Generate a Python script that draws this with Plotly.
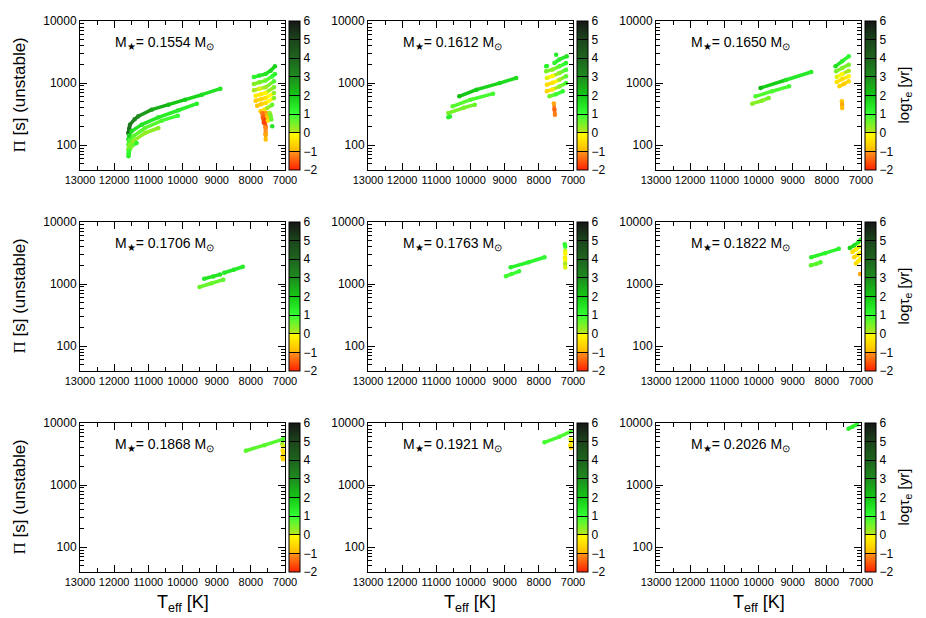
import plotly.graph_objs as go
from plotly.colors import sample_colorscale

####################################################################################################
##                                             DATA                                               ##
####################################################################################################

# Stellar masses of each panel (Msun)
masses = ['0.1554', '0.1612', '0.1650', '0.1706', '0.1763', '0.1822', '0.1868', '0.1921', '0.2026']

# Axis ticks
teff_ticks = [13000, 12000, 11000, 10000, 9000, 8000, 7000]
period_ticks = [100, 1000, 10000]
tau_ticks = [-2, -1, 0, 1, 2, 3, 4, 5, 6]

# Unstable modes: each track is (Teff [K], Pi [s], log tau_e [yr])
tracks_1554 = [
    ([11588, 11560, 11538, 11400, 11294, 10903, 10412, 9921, 9432, 8891],
     [157, 185, 214, 262, 292, 373, 449, 541, 650, 813],
     [3.8, 3.7, 3.5, 3.2, 3.0, 2.6, 2.2, 1.9, 1.6, 1.5]),
    ([11585, 11560, 11491, 11197, 10706, 10118, 9580],
     [123, 145, 168, 214, 281, 365, 466],
     [1.8, 1.7, 1.6, 1.5, 1.4, 1.3, 1.3]),
    ([11585, 11560, 11441, 11097, 10609, 10138],
     [102, 120, 139, 189, 248, 299],
     [0.9, 0.8, 0.7, 0.7, 0.8, 1.0]),
    ([11585, 11560, 11441, 11097, 10706],
     [85, 100, 116, 157, 189],
     [0.5, 0.4, 0.3, 0.3, 0.4]),
    ([11580, 11540, 11491, 11344],
     [75, 86, 96, 108],
     [0.8, 0.6, 0.5, 1.2]),
    ([11580, 11575, 11570],
     [66, 72, 80],
     [1.3, 1.2, 1.0]),
    ([7912, 7750, 7568, 7421, 7294],
     [1254, 1320, 1403, 1585, 1862],
     [1.2, 1.4, 1.5, 1.7, 1.8]),
    ([7912, 7750, 7568, 7374, 7294],
     [966, 1030, 1096, 1290, 1403],
     [0.4, 0.5, 0.6, 1.0, 1.2]),
    ([7912, 7750, 7568, 7324],
     [765, 810, 855, 1072],
     [0.1, 0.0, 0.2, 0.8]),
    ([7862, 7700, 7568, 7324],
     [627, 660, 693, 855],
     [-0.3, -0.3, -0.1, 0.5]),
    ([7862, 7700, 7568, 7324],
     [521, 548, 575, 693],
     [-0.7, -0.6, -0.4, 0.3]),
    ([7814, 7700, 7568, 7324],
     [433, 455, 479, 575],
     [-0.8, -0.7, -0.5, 0.4]),
    ([7715, 7600, 7520, 7374],
     [352, 375, 398, 449],
     [-0.6, -0.4, 0.2, 0.6]),
    ([7670, 7650, 7620],
     [330, 280, 230],
     [-1.2, -1.5, -1.7]),
    ([7600, 7580, 7570, 7568],
     [320, 260, 200, 150],
     [-1.4, -1.7, -1.5, -1.2]),
    ([7568, 7566, 7565],
     [190, 150, 123],
     [-1.1, -1.0, -0.9]),
    ([7540, 7520, 7500],
     [330, 290, 250],
     [-1.0, -0.8, -0.5]),
    ([7450, 7421, 7400],
     [330, 300, 260],
     [0.3, 0.5, 0.6]),
    ([7374], [201], [1.5]),
]

tracks_1612 = [
    ([10329, 9825, 9146, 8660], [612, 783, 1000, 1208], [2.2, 1.9, 1.7, 1.6]),
    ([10524, 10000, 9339], [423, 540, 676], [0.7, 0.8, 0.9]),
    ([10649, 10200, 9874], [330, 400, 449], [0.5, 0.5, 0.6]),
    ([10649, 10600], [281, 290], [1.3, 1.3]),
    ([7494], [2871], [1.4]),
    ([7544, 7400, 7183], [2107, 2400, 2700], [1.2, 1.3, 1.5]),
    ([7786, 7760], [1862, 1880], [1.2, 1.2]),
    ([7786, 7600, 7398, 7203], [1550, 1650, 1862, 2100], [0.5, 0.4, 0.8, 1.2]),
    ([7766, 7600, 7400, 7203], [1208, 1300, 1450, 1644], [0.0, -0.1, 0.4, 0.9]),
    ([7766, 7600, 7400, 7203], [944, 1010, 1130, 1288], [-0.5, -0.4, 0.1, 0.7]),
    ([7766, 7600, 7400, 7203], [738, 790, 880, 1000], [-0.6, -0.3, 0.4, 0.9]),
    ([7689, 7500, 7300], [612, 660, 738], [0.6, 0.9, 1.1]),
    ([7560, 7544, 7530], [470, 380, 309], [-1.0, -1.4, -1.2]),
]

tracks_1650 = [
    ([9941, 9200, 8456], [834, 1120, 1510], [2.3, 1.5, 1.3]),
    ([10087, 9600, 9106], [612, 740, 887], [0.8, 0.8, 0.9]),
    ([10184, 9900, 9700], [466, 520, 575], [0.4, 0.4, 0.5]),
    ([7747, 7550, 7358], [1862, 2250, 2700], [1.6, 1.3, 1.1]),
    ([7727, 7550, 7358], [1550, 1750, 1979], [0.5, 0.4, 0.5]),
    ([7710, 7550, 7358], [1254, 1400, 1585], [0.0, -0.1, 0.2]),
    ([7710, 7550, 7358], [1042, 1160, 1288], [-0.4, -0.5, -0.2]),
    ([7631, 7500, 7358], [887, 970, 1072], [-0.6, -0.7, -0.5]),
    ([7560, 7553, 7550], [510, 450, 398], [-0.8, -1.0, -0.9]),
]

tracks_1706 = [
    ([9365, 9100, 8900], [1222, 1330, 1430], [1.4, 1.5, 1.5]),
    ([8780, 8500, 8233], [1520, 1700, 1900], [1.4, 1.4, 1.3]),
    ([9503, 9150, 8806], [897, 1030, 1178], [0.6, 0.6, 0.7]),
]

tracks_1763 = [
    ([8823, 8300, 7834], [1862, 2250, 2704], [1.3, 1.2, 1.1]),
    ([8964, 8800, 8580], [1337, 1450, 1607], [0.9, 0.9, 1.0]),
    ([7240, 7228], [4400, 4000], [1.2, 1.0]),
    ([7228, 7225], [3400, 3100], [0.0, -0.1]),
    ([7235, 7228], [2700, 2450], [-0.2, -0.1]),
    ([7230, 7226], [2150, 1850], [0.1, 0.0]),
]

tracks_1822 = [
    ([8457, 8050, 7650], [2700, 3150, 3700], [1.3, 1.2, 1.2]),
    ([8465, 8300, 8187], [2010, 2130, 2245], [0.7, 0.7, 0.8]),
    ([7330, 7200, 7080, 7010], [3800, 4200, 4700, 5200], [1.8, 1.6, 1.4, 1.2]),
    ([7250, 7150, 7050], [3300, 3600, 4000], [-0.5, -0.3, 0.0]),
    ([7200, 7100, 7020], [2700, 2950, 3200], [-0.6, -0.4, -0.2]),
    ([7150, 7080, 7010], [2150, 2350, 2550], [-0.5, -0.3, -0.1]),
    ([7030], [1450], [-1.0]),
]

tracks_1868 = [
    ([8147, 7600, 7050], [3580, 4400, 5500], [0.7, 0.7, 0.8]),
    ([7080, 7060], [4600, 4200], [0.2, 0.0]),
    ([7070, 7050], [3600, 3300], [-0.4, -0.5]),
    ([7080, 7060], [2900, 2600], [-0.5, -0.6]),
]

tracks_1921 = [
    ([7834, 7400, 7055], [4885, 6000, 7350], [0.9, 0.8, 0.8]),
    ([7070, 7050], [5400, 5000], [0.0, -0.2]),
    ([7080, 7060], [4400, 4000], [-0.4, -0.6]),
]

tracks_2026 = [
    ([7366, 7250, 7120], [8100, 8700, 9500], [1.3, 1.3, 1.2]),
]

panel_tracks = [tracks_1554, tracks_1612, tracks_1650, tracks_1706, tracks_1763,
                tracks_1822, tracks_1868, tracks_1921, tracks_2026]

# Palette of log tau_e (from -2 to 6)
tau_scale = [
    [0.0, 'rgb(255,32,0)'],
    [0.124, 'rgb(255,150,26)'],
    [0.126, 'rgb(255,184,0)'],
    [0.249, 'rgb(255,255,0)'],
    [0.251, 'rgb(184,230,30)'],
    [0.375, 'rgb(51,255,51)'],
    [0.5, 'rgb(20,200,20)'],
    [0.625, 'rgb(30,140,30)'],
    [0.75, 'rgb(30,100,30)'],
    [0.875, 'rgb(27,70,27)'],
    [1.0, 'rgb(22,22,22)'],
]

####################################################################################################
##                                            FIGURE                                              ##
####################################################################################################

W, H = 926, 618
col_left = [72, 360, 648]
row_top = [13, 214, 415]
panel_w, panel_h = 205, 149
font_main = 'Liberation Sans, Arial, sans-serif'

fig = go.Figure()
annotations = []

for i, (mass, tracks) in enumerate(zip(masses, panel_tracks)):
    r, c = divmod(i, 3)
    ax = '' if i == 0 else str(i + 1)
    x0 = col_left[c] / W
    x1 = (col_left[c] + panel_w) / W
    y1 = 1 - row_top[r] / H
    y0 = 1 - (row_top[r] + panel_h) / H
    ## Axes
    fig.update_layout(**{
        'xaxis' + ax: dict(
            domain=[x0, x1], anchor='y' + ax, range=[13000, 7000],
            tickvals=teff_ticks, ticktext=[str(t) for t in teff_ticks],
            ticks='inside', ticklen=7, tickcolor='black', showline=True, linecolor='black',
            linewidth=1, mirror='allticks', showgrid=False, zeroline=False,
            minor=dict(tickvals=[12500, 11500, 10500, 9500, 8500, 7500], ticks='inside',
                       ticklen=4, tickcolor='black', showgrid=False),
            tickfont=dict(size=11, color='black', family=font_main)),
        'yaxis' + ax: dict(
            domain=[y0, y1], anchor='x' + ax, type='log', range=[1.6, 4],
            tickvals=period_ticks, ticktext=[str(t) for t in period_ticks],
            ticks='inside', ticklen=7, tickcolor='black', showline=True, linecolor='black',
            linewidth=1, mirror='allticks', showgrid=False, zeroline=False,
            minor=dict(tickvals=[40, 50, 60, 70, 80, 90, 200, 300, 400, 500, 600, 700, 800, 900,
                                 2000, 3000, 4000, 5000, 6000, 7000, 8000, 9000],
                       ticks='inside', ticklen=4, tickcolor='black', showgrid=False),
            tickfont=dict(size=12, color='black', family=font_main)),
    })
    ## Track segments
    for T, P, tau in tracks:
        for k in range(len(T) - 1):
            col = sample_colorscale(tau_scale, [((tau[k] + tau[k + 1]) / 2 + 2) / 8])[0]
            fig.add_trace(go.Scatter(
                x=T[k:k + 2], y=P[k:k + 2], mode='lines',
                line=dict(color=col, width=3.5),
                xaxis='x' + ax, yaxis='y' + ax, hoverinfo='skip', showlegend=False))
    ## Points + colorbar
    all_T = [t for tr in tracks for t in tr[0]]
    all_P = [p for tr in tracks for p in tr[1]]
    all_tau = [v for tr in tracks for v in tr[2]]
    fig.add_trace(go.Scatter(
        x=all_T, y=all_P, mode='markers', xaxis='x' + ax, yaxis='y' + ax, showlegend=False,
        marker=dict(size=4.5, color=all_tau, colorscale=tau_scale, cmin=-2, cmax=6,
                    line=dict(width=0), showscale=True,
                    colorbar=dict(
                        x=(col_left[c] + panel_w + 4) / W, xanchor='left', xpad=0, ypad=0,
                        y=(y0 + y1) / 2, yanchor='middle', len=panel_h / H, lenmode='fraction',
                        thickness=11, outlinecolor='black', outlinewidth=1,
                        tickvals=tau_ticks, ticks='inside', ticklen=11,
                        tickcolor='black', tickwidth=1,
                        tickfont=dict(size=12, color='black', family=font_main)))))
    ## Mass label
    annotations.append(dict(
        xref='x' + ax + ' domain', yref='y' + ax + ' domain', x=0.16, y=0.85,
        xanchor='left', yanchor='middle', showarrow=False,
        text='M<sub>\u2605</sub>= ' + mass + ' M<sub>\u2299</sub>',
        font=dict(size=14, color='black', family=font_main)))
    ## Row titles
    if c == 0:
        annotations.append(dict(
            xref='paper', yref='paper', x=11 / W, y=(y0 + y1) / 2, textangle=-90,
            xanchor='center', yanchor='middle', showarrow=False,
            text='<span style="font-family:Liberation Serif,serif">\u03a0</span> [s] (unstable)',
            font=dict(size=17, color='black', family=font_main)))
    if c == 2:
        annotations.append(dict(
            xref='paper', yref='paper', x=896 / W, y=(y0 + y1) / 2, textangle=-90,
            xanchor='center', yanchor='middle', showarrow=False,
            text='log\u03c4<sub>e</sub> [yr]',
            font=dict(size=15, color='black', family=font_main)))
    if r == 2:
        annotations.append(dict(
            xref='paper', yref='paper', x=(x0 + x1) / 2, y=1 - 595 / H,
            xanchor='center', yanchor='middle', showarrow=False,
            text='T<sub>eff</sub> [K]',
            font=dict(size=18, color='black', family=font_main)))

fig.update_layout(
    width=W, height=H,
    margin=dict(l=0, r=0, t=0, b=0, autoexpand=False),
    paper_bgcolor='white', plot_bgcolor='white',
    annotations=annotations,
    font=dict(family=font_main, color='black'))

fig.write_html("out.html")
